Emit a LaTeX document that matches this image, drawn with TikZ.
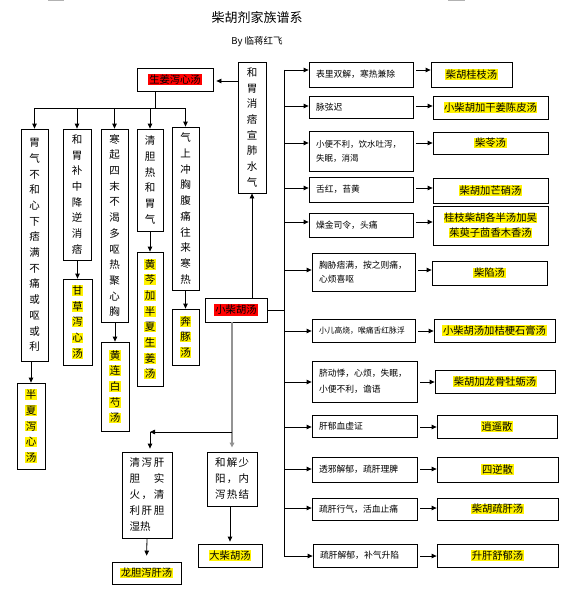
\documentclass[tikz,border=0pt]{standalone}
\usepackage{fontspec}
\newfontfamily\cjk{Noto Sans CJK SC}
\usetikzlibrary{arrows.meta}
\newcommand\yh[1]{{\setlength{\fboxsep}{0.6pt}\colorbox{yellow}{#1}}}
\newcommand\rh[1]{{\setlength{\fboxsep}{1pt}\colorbox{red}{#1}}}
\newcommand\hf{\hfill{}}
\newcommand\bx[7][]{%
  \node[box,minimum width={(#5-#3)*1pt},minimum height={(#6-#4)*1pt},#1] (#2) at ({(#3+#5)/2},{(#4+#6)/2}) {#7};}
\newcommand\cb[7][]{%
  \pgfmathsetmacro\tw{#5-#3-14}%
  \node[box,cond,text width=\tw pt,minimum height={(#6-#4)*1pt},#1] (#2) at ({(#3+#5)/2},{(#4+#6)/2}) {#7};}
\tikzset{
  box/.style={draw,line width=0.8pt,inner sep=0pt,align=center},
  vt/.style={font=\cjk\fontsize{10.5}{15.7}\selectfont},
  cond/.style={align=left,inner xsep=7pt,font=\cjk\fontsize{8.8}{14.5}\selectfont},
  res/.style={font=\cjk\fontsize{10.3}{15}\selectfont},
  jb/.style={align=left,font=\cjk\fontsize{10.5}{16}\selectfont},
  arr/.style={-{Triangle[length=5pt,width=4.5pt]},line width=0.8pt},
  ln/.style={line width=0.8pt},
  garr/.style={-{Triangle[length=5pt,width=4.5pt]},draw=gray!85,line width=1.5pt},
}
\begin{document}
\begin{tikzpicture}[x=1pt,y=-1pt]
\useasboundingbox (0,0) rectangle (565,594);
\fill[white] (0,0) rectangle (565,594);
\draw[gray!60,line width=1.2pt] (48,0.6) -- (64,0.6);
\draw[gray!60,line width=1.2pt] (448,0.6) -- (465,0.6);
% title
\node[font=\cjk\fontsize{13}{15}\selectfont] (title) at (257,18) {柴胡剂家族谱系};
\node[font=\cjk\fontsize{9.5}{11}\selectfont] (by) at (257,42) {By 临蒋红飞};
% left part
\bx[res]{sj}{137}{68}{213}{91}{\rh{生姜泻心汤}}
\bx[vt]{hw}{238}{62}{266}{193}{和\\胃\\消\\痞\\宣\\肺\\水\\气}
\bx[vt]{L1}{21}{129}{48}{361}{胃\\气\\不\\和\\心\\下\\痞\\满\\不\\痛\\或\\呕\\或\\利}
\bx[vt]{L2}{63}{129}{91}{260}{和\\胃\\补\\中\\降\\逆\\消\\痞}
\bx[vt]{L3}{101}{129}{128}{322}{寒\\起\\四\\末\\不\\渴\\多\\呕\\热\\聚\\心\\胸}
\bx[vt]{L4}{137}{129}{163}{231}{清\\胆\\热\\和\\胃\\气}
\bx[vt]{L5}{172}{127}{199}{290}{气\\上\\冲\\胸\\腹\\痛\\往\\来\\寒\\热}
\bx[vt]{B1}{17}{383}{45}{469}{\yh{半}\\\yh{夏}\\\yh{泻}\\\yh{心}\\\yh{汤}}
\bx[vt]{B2}{63}{279}{92}{365}{\yh{甘}\\\yh{草}\\\yh{泻}\\\yh{心}\\\yh{汤}}
\bx[vt]{B3}{101}{342}{129}{431}{\yh{黄}\\\yh{连}\\\yh{白}\\\yh{芍}\\\yh{汤}}
\bx[vt]{B4}{137}{252}{163}{386}{\yh{黄}\\\yh{芩}\\\yh{加}\\\yh{半}\\\yh{夏}\\\yh{生}\\\yh{姜}\\\yh{汤}}
\bx[vt]{B5}{172}{309}{199}{365}{\yh{奔}\\\yh{豚}\\\yh{汤}}
\bx[res]{xc}{205}{298}{267}{322}{\rh{小柴胡汤}}
\bx[jb]{Q}{122}{452}{172}{538}{\hbox to 35pt{清\hf 泻\hf 肝}\\\hbox to 35pt{胆\hf 实}\\\hbox to 35pt{火\hf ，\hf 清}\\\hbox to 35pt{利\hf 肝\hf 胆}\\\hbox to 35pt{湿热\hf}}
\bx[jb]{H}{207}{452}{257}{506}{\hbox to 34pt{和\hf 解\hf 少}\\\hbox to 34pt{阳\hf ，\hf 内}\\\hbox to 34pt{泻\hf 热\hf 结}}
\bx[res]{LD}{112}{562}{181}{584}{\yh{龙胆泻肝汤}}
\bx[res]{DC}{198}{544}{262}{567}{\yh{大柴胡汤}}
% left connectors
\coordinate (tb) at (0,108);
\draw[arr,shorten >=3pt] (hw.west |- 0,81) -- (sj.east |- 0,81);
\draw[ln] ([xshift=-20pt]sj.south) -- ([xshift=-20pt]sj.south |- tb);
\draw[ln] (L1.north |- tb) -- (L5.north |- tb);
\foreach \n in {L1,L2,L3,L4,L5}{\draw[arr] (\n.north |- tb) -- (\n.north);}
\draw[arr] (B1.north |- L1.south) -- (B1.north);
\draw[arr] (B2.north |- L2.south) -- (B2.north);
\draw[arr] (B3.north |- L3.south) -- (B3.north);
\draw[arr] (B4.north |- L4.south) -- (B4.north);
\draw[arr] (B5.north |- L5.south) -- (B5.north);
\draw[arr] (xc.north -| hw.south) -- (hw.south);
\draw[garr,shorten >=4pt] (H.north |- xc.south) -- (H.north);
\draw[arr] (H.north |- 0,432) -- ([xshift=3pt]Q.north |- 0,432);
\draw[arr,shorten >=3pt] ([xshift=3pt]Q.north |- 0,432) -- ([xshift=3pt]Q.north);
\draw[arr,shorten >=6pt] (Q.south) -- (LD.north);
\draw[arr,shorten >=2pt] (H.south -| DC.north) -- (DC.north);
% right part
\cb{c1}{309}{62}{413}{87}{表里双解，寒热兼除}
\bx[res]{r1}{431}{62}{512}{87}{\yh{柴胡桂枝汤}}
\cb{c2}{309}{96}{413}{118}{脉弦迟}
\bx[res]{r2}{433}{96}{548}{119}{\yh{小柴胡加干姜陈皮汤}}
\cb[font=\cjk\fontsize{8.5}{14}\selectfont]{c3}{309}{131}{413}{171}{小便不利，饮水吐泻，\\失眠，消渴}
\bx[res]{r3}{433}{132}{548}{154}{\yh{柴苓汤}}
\cb{c4}{309}{177}{413}{202}{舌红，苔黄}
\bx[res]{r4}{433}{178}{548}{203}{\yh{柴胡加芒硝汤}}
\cb{c5}{309}{213}{413}{237}{燥金司令，头痛}
\bx[res]{r5}{433}{206}{548}{245}{\yh{桂枝柴胡各半汤加吴}\\\yh{茱萸子茴香木香汤}}
\cb{c6}{312}{253}{415}{291}{胸胁痞满，按之则痛，\\心烦喜呕}
\bx[res]{r6}{432}{261}{547}{285}{\yh{柴陷汤}}
\cb[font=\cjk\fontsize{7.8}{14}\selectfont]{c7}{312}{319}{415}{342}{小儿高烧，喉痛舌红脉浮}
\bx[res]{r7}{434}{319}{555}{342}{\yh{小柴胡汤加桔梗石膏汤}}
\cb[font=\cjk\fontsize{8.8}{16}\selectfont]{c8}{312}{361}{417}{402}{脐动悸，心烦，失眠，\\小便不利，谵语}
\bx[res]{r8}{435}{370}{555}{393}{\yh{柴胡加龙骨牡蛎汤}}
\cb{c9}{312}{415}{417}{437}{肝郁血虚证}
\bx[res]{r9}{437}{415}{557}{438}{\yh{逍遥散}}
\cb{c10}{312}{457}{417}{482}{透邪解郁，疏肝理脾}
\bx[res]{r10}{437}{457}{558}{482}{\yh{四逆散}}
\cb{c11}{312}{498}{417}{520}{疏肝行气，活血止痛}
\bx[res]{r11}{437}{498}{558}{520}{\yh{柴胡疏肝汤}}
\cb{c12}{313}{544}{417}{567}{疏肝解郁，补气升陷}
\bx[res]{r12}{437}{544}{558}{567}{\yh{升肝舒郁汤}}
% right connectors
\coordinate (bus) at (284,0);
\draw[ln] (bus |- 0,70) -- (bus |- 0,556);
\draw[ln] (xc.east) -- (bus |- xc.east);
\foreach \i/\ay in {1/70,2/106,3/143,4/188,5/222,6/270,7/331,8/382,9/427,10/469,11/508,12/556}{
  \draw[arr] (bus |- 0,\ay) -- (c\i.west |- 0,\ay);
  \draw[arr,shorten <=3pt] (c\i.east |- 0,\ay) -- (r\i.west |- 0,\ay);
}
\end{tikzpicture}
\end{document}
